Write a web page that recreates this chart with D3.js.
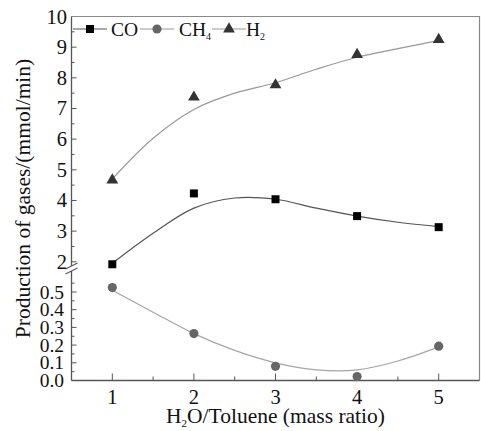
<!DOCTYPE html>
<meta charset="utf-8">
<script src="https://d3js.org/d3.v7.min.js"></script>
<style>
  body { margin: 0; background: #fff; }
</style>
<body>
<script>

// measured gas production per H2O/toluene ratio
var ratios = [1, 2, 3, 4, 5]
var co  = [1.92, 4.23, 4.04, 3.49, 3.13]
var ch4 = [0.525, 0.265, 0.08, 0.022, 0.194]
var h2  = [4.7, 7.4, 7.8, 8.79, 9.28]

// fitted trend lines, sampled every half step
var fitX   = [1, 1.5, 2, 2.5, 3, 3.5, 4, 4.5, 5]
var coFit  = [1.95, 2.93, 3.75, 4.08, 4.04, 3.75, 3.49, 3.29, 3.15]
var ch4Fit = [0.51, 0.386, 0.265, 0.17, 0.10, 0.06, 0.06, 0.11, 0.19]
var h2Fit  = [4.7, 6.03, 6.97, 7.5, 7.84, 8.28, 8.67, 8.95, 9.22]

var upperTicks = [2, 3, 4, 5, 6, 7, 8, 9, 10]
var lowerTicks = [0, 0.1, 0.2, 0.3, 0.4, 0.5]

var W = 481, H = 431
var pL = 71.5, pR = 479.5, pT = 16.5, pB = 380.5
var breakTop = 266, breakBot = 271
var FONT = "'Liberation Serif', 'Times New Roman', serif"

var svg = d3.select("body").append("svg")
            .attr("width", W)
            .attr("height", H)
            .style("font-family", FONT)

var x = d3.scaleLinear().domain([0.5, 5.5]).range([pL, pR])
// broken y axis: upper part in mmol/min 2..10, lower part 0..0.6
var yUp = d3.scaleLinear().domain([2, 10]).range([261.8, pT])
var yLo = d3.scaleLinear().domain([0, 0.5]).range([pB, 292])

// frame
svg.append("path")
   .attr("d", "M" + pL + "," + pT + "H" + pR + "V" + pB)
   .attr("fill", "none").attr("stroke", "#8a8a8a").attr("stroke-width", 1.2)

svg.append("line").attr("x1", pL).attr("x2", pR).attr("y1", pB).attr("y2", pB)
   .attr("stroke", "#555").attr("stroke-width", 1.3)
svg.append("line").attr("x1", pL).attr("x2", pL).attr("y1", pT).attr("y2", breakTop)
   .attr("stroke", "#555").attr("stroke-width", 1.3)
svg.append("line").attr("x1", pL).attr("x2", pL).attr("y1", breakBot).attr("y2", pB)
   .attr("stroke", "#555").attr("stroke-width", 1.3)

// break marks
;[breakTop, breakBot].forEach(function(b) {
  svg.append("line")
     .attr("x1", pL - 6).attr("y1", b + 3)
     .attr("x2", pL + 6).attr("y2", b - 3)
     .attr("stroke", "#555").attr("stroke-width", 1.1)
})

// x ticks (inward)
var xMinor = d3.range(1.5, 5.5, 1)
svg.append("g").selectAll("line").data(ratios).enter().append("line")
   .attr("x1", d => x(d)).attr("x2", d => x(d))
   .attr("y1", pB).attr("y2", pB - 7)
   .attr("stroke", "#555")
svg.append("g").selectAll("line").data(xMinor).enter().append("line")
   .attr("x1", d => x(d)).attr("x2", d => x(d))
   .attr("y1", pB).attr("y2", pB - 4)
   .attr("stroke", "#555")
svg.append("g").selectAll("text").data(ratios).enter().append("text")
   .attr("x", d => x(d)).attr("y", 404)
   .attr("text-anchor", "middle").style("font-size", "20.5px").attr("fill", "#111")
   .text(d => d)

// y ticks, upper part
var upMinor = d3.range(2.5, 10, 1)
svg.append("g").selectAll("line").data(upperTicks.slice(0, -1)).enter().append("line")
   .attr("x1", pL).attr("x2", pL + 5)
   .attr("y1", d => yUp(d)).attr("y2", d => yUp(d))
   .attr("stroke", "#555")
svg.append("g").selectAll("line").data(upMinor).enter().append("line")
   .attr("x1", pL).attr("x2", pL + 3)
   .attr("y1", d => yUp(d)).attr("y2", d => yUp(d))
   .attr("stroke", "#555")
svg.append("g").selectAll("text").data(upperTicks).enter().append("text")
   .attr("x", 67).attr("y", d => yUp(d) + 7)
   .attr("text-anchor", "end").style("font-size", "20.5px").attr("fill", "#111")
   .text(d => d)

// y ticks, lower part
var loMinor = [0.05, 0.15, 0.25, 0.35, 0.45, 0.55]
svg.append("g").selectAll("line").data(lowerTicks.slice(1)).enter().append("line")
   .attr("x1", pL).attr("x2", pL + 5)
   .attr("y1", d => yLo(d)).attr("y2", d => yLo(d))
   .attr("stroke", "#555")
svg.append("g").selectAll("line").data(loMinor).enter().append("line")
   .attr("x1", pL).attr("x2", pL + 3)
   .attr("y1", d => yLo(d)).attr("y2", d => yLo(d))
   .attr("stroke", "#555")
svg.append("g").selectAll("text").data(lowerTicks).enter().append("text")
   .attr("x", 64).attr("y", d => yLo(d) + 6.5)
   .attr("text-anchor", "end").style("font-size", "19.5px").attr("fill", "#111")
   .text(d => d3.format(".1f")(d))

// axis titles
var xt = svg.append("text")
   .attr("x", (pL + pR) / 2).attr("y", 423)
   .attr("text-anchor", "middle").style("font-size", "21.5px").attr("fill", "#111")
xt.append("tspan").text("H")
xt.append("tspan").text("2").style("font-size", "11px").attr("dy", 4)
xt.append("tspan").text("O/Toluene (mass ratio)").attr("dy", -4)

svg.append("text")
   .attr("transform", "translate(30," + ((pT + pB) / 2) + ") rotate(-90)")
   .attr("text-anchor", "middle").style("font-size", "21.5px").attr("fill", "#111")
   .text("Production of gases/(mmol/min)")

// fitted curves
var line = function(ys, y) {
  return d3.line().curve(d3.curveCatmullRom)
           .x((d, i) => x(fitX[i])).y(d => y(d))(ys)
}
svg.append("path").attr("d", line(h2Fit, yUp))
   .attr("fill", "none").attr("stroke", "#999").attr("stroke-width", 1.2)
svg.append("path").attr("d", line(coFit, yUp))
   .attr("fill", "none").attr("stroke", "#555").attr("stroke-width", 1.2)
svg.append("path").attr("d", line(ch4Fit, yLo))
   .attr("fill", "none").attr("stroke", "#a5a5a5").attr("stroke-width", 1.2)

// markers
var sq = d3.symbol().type(d3.symbolSquare).size(64)
var ci = d3.symbol().type(d3.symbolCircle).size(66)
var tr = d3.symbol().type(d3.symbolTriangle).size(60)

svg.append("g").selectAll("path").data(h2).enter().append("path")
   .attr("d", tr).attr("fill", "#333")
   .attr("transform", (d, i) => "translate(" + x(ratios[i]) + "," + (yUp(d) + 1) + ")")
svg.append("g").selectAll("path").data(co).enter().append("path")
   .attr("d", sq).attr("fill", "#000")
   .attr("transform", (d, i) => "translate(" + x(ratios[i]) + "," + yUp(d) + ")")
svg.append("g").selectAll("path").data(ch4).enter().append("path")
   .attr("d", ci).attr("fill", "#666")
   .attr("transform", (d, i) => "translate(" + x(ratios[i]) + "," + yLo(d) + ")")

// legend
var legend = [
  { name: "CO", sub: "", sym: sq, fill: "#000", line: "#555", x0: 73, tx: 111 },
  { name: "CH", sub: "4", sym: ci, fill: "#666", line: "#999", x0: 140, tx: 179 },
  { name: "H", sub: "2", sym: tr, fill: "#333", line: "#999", x0: 212, tx: 246 }
]
var ly = 29
legend.forEach(function(d) {
  svg.append("line").attr("x1", d.x0).attr("x2", d.x0 + 34)
     .attr("y1", ly).attr("y2", ly).attr("stroke", d.line).attr("stroke-width", 1.2)
  svg.append("path").attr("d", d.sym).attr("fill", d.fill)
     .attr("transform", "translate(" + (d.x0 + 17) + "," + ly + ")")
  var t = svg.append("text").attr("x", d.tx).attr("y", ly + 7)
             .style("font-size", "19.5px").attr("fill", "#111")
  t.append("tspan").text(d.name)
  if (d.sub) t.append("tspan").text(d.sub).style("font-size", "10px").attr("dy", 4)
})

</script>
</body>
